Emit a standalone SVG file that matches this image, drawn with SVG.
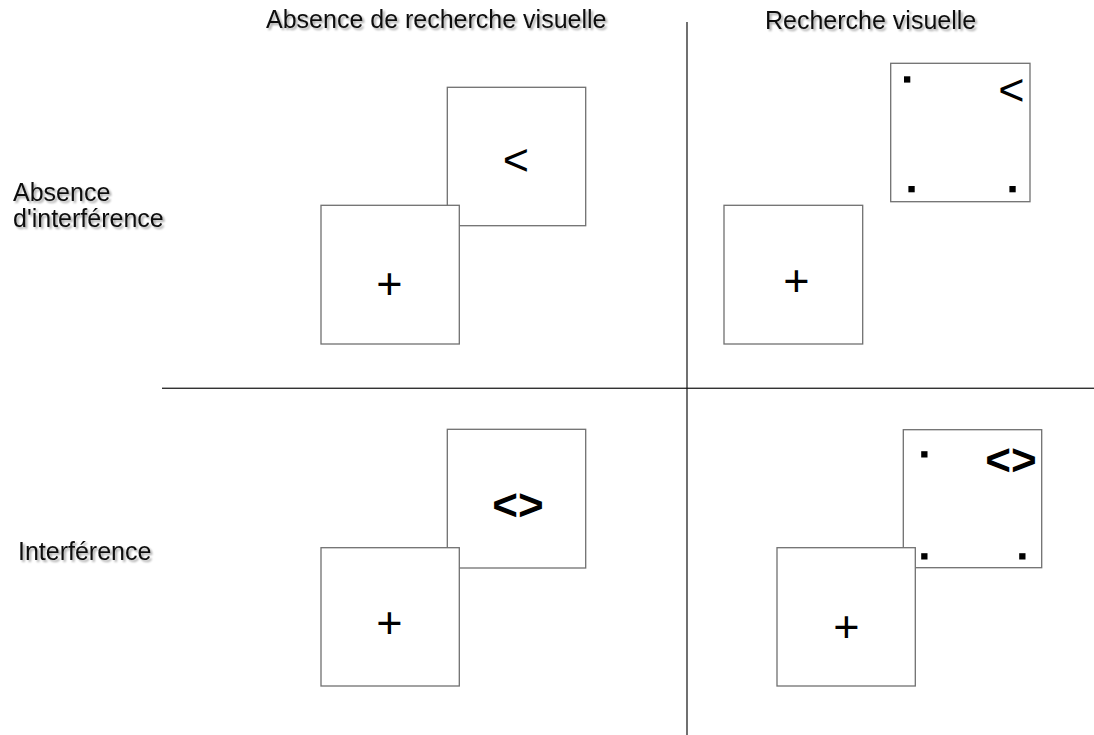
<svg xmlns="http://www.w3.org/2000/svg" width="1094" height="735" viewBox="0 0 1094 735">
<defs>
<filter id="sh" x="-10%" y="-30%" width="120%" height="160%">
<feGaussianBlur in="SourceAlpha" stdDeviation="1"/>
<feOffset dx="1.5" dy="1.5" result="b"/>
<feComponentTransfer><feFuncA type="linear" slope="0.35"/></feComponentTransfer>
<feMerge><feMergeNode/><feMergeNode in="SourceGraphic"/></feMerge>
</filter>
</defs>
<style>
.lbl{font-family:"Liberation Sans",Arial,sans-serif;font-size:25px;fill:#111;filter:url(#sh)}
.box{fill:#fff;stroke:#707070;stroke-width:1.3}
.sym{font-family:"Liberation Sans",Arial,sans-serif;font-size:45px;fill:#000;text-anchor:middle}
.b{font-weight:bold;font-size:44px}
.dot{fill:#000}
</style>
<rect width="1094" height="735" fill="#fff"/>
<g id="connectors">
<line x1="162" y1="387.5" x2="1094" y2="387.5" stroke="#aaa" stroke-width="1"/>
<line x1="162" y1="388.5" x2="1094" y2="388.5" stroke="#333" stroke-width="1.2"/>
<line x1="687" y1="22" x2="687" y2="735" stroke="#111" stroke-width="1.2"/>
</g>
<g id="headers">
<text class="lbl" x="266" y="28">Absence de recherche visuelle</text>
<text class="lbl" x="765" y="29">Recherche visuelle</text>
<text class="lbl" x="13" y="201">Absence</text>
<text class="lbl" x="13" y="227">d'interférence</text>
<text class="lbl" x="18" y="560">Interférence</text>
</g>
<g id="q1">
<rect class="box" x="447.3" y="87.3" width="138.4" height="138.4"/>
<text class="sym" x="516" y="175">&lt;</text>
<rect class="box" x="321" y="205.3" width="138.3" height="138.7"/>
<text class="sym" x="389.5" y="299">+</text>
</g>
<g id="q2">
<rect class="box" x="890.7" y="63.3" width="139.3" height="138.4"/>
<rect class="dot" x="904" y="76.3" width="6.3" height="6.3"/>
<rect class="dot" x="908.4" y="186" width="6.3" height="6.3"/>
<rect class="dot" x="1009.4" y="186" width="6.3" height="6.3"/>
<text class="sym" x="1011.5" y="105">&lt;</text>
<rect class="box" x="724" y="205.3" width="138.7" height="138.7"/>
<text class="sym" x="796.3" y="295.5">+</text>
</g>
<g id="q3">
<rect class="box" x="447.3" y="429.3" width="138.4" height="138.7"/>
<text class="sym b" x="518" y="520">&lt;&gt;</text>
<rect class="box" x="321" y="547.7" width="138.3" height="138.3"/>
<text class="sym" x="389.5" y="637.5">+</text>
</g>
<g id="q4">
<rect class="box" x="903.3" y="429.7" width="138.4" height="138"/>
<rect class="dot" x="921.2" y="451.2" width="6.3" height="6.3"/>
<rect class="dot" x="921.2" y="553.2" width="6.3" height="6.3"/>
<rect class="dot" x="1019.2" y="553.2" width="6.3" height="6.3"/>
<text class="sym b" x="1011" y="474.5">&lt;&gt;</text>
<rect class="box" x="777" y="547.7" width="138.3" height="138.3"/>
<text class="sym" x="846.3" y="641.5">+</text>
</g>
</svg>
